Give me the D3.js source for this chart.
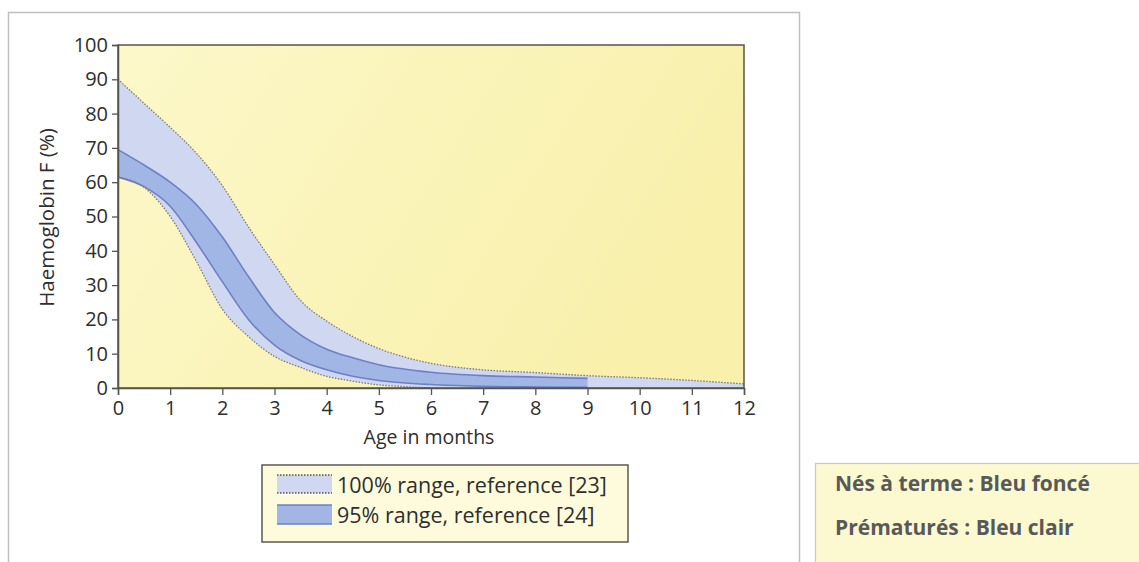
<!DOCTYPE html>
<html>
<head>
<meta charset="utf-8">
<script src="https://cdn.jsdelivr.net/npm/d3@7"></script>
<style>
  html, body { margin: 0; padding: 0; background: #fff; }
  svg { display: block; }
  text { font-family: "Open Sans", "Noto Sans", sans-serif; }
</style>
</head>
<body>
<svg id="chart" width="1139" height="562"></svg>
<script>
// ---- data ----
const months100 = [0, 0.5, 1, 1.5, 2, 2.5, 3, 3.5, 4, 4.5, 5, 5.5, 6, 7, 8, 9, 10, 11, 12];
const range100Upper = [90, 83, 76, 68.5, 59, 47, 36, 25.5, 19.5, 15, 11.5, 9, 7.2, 5.3, 4.5, 3.6, 3, 2.2, 1.2];
const range100Lower = [61.5, 58.5, 50, 37, 23, 15, 9.2, 6, 3.4, 2, 0.9, 0.4, 0, 0, 0, 0, 0, 0, 0];

const months95 = [0, 0.5, 1, 1.5, 2, 2.5, 3, 3.5, 4, 4.5, 5, 6, 7, 8, 9];
const range95Upper = [69.5, 65, 60, 53.5, 44, 32.5, 22, 15.5, 11.3, 8.8, 6.8, 4.6, 3.6, 3.2, 2.8];
const range95Lower = [61.5, 58.7, 53, 42.5, 31, 20, 12.5, 8, 5.3, 3.4, 2.2, 1, 0.5, 0.3, 0.2];

const xTicks = [0, 1, 2, 3, 4, 5, 6, 7, 8, 9, 10, 11, 12];
const yTicks = [0, 10, 20, 30, 40, 50, 60, 70, 80, 90, 100];

const xLabel = "Age in months";
const yLabel = "Haemoglobin F (%)";
const legendLabels = ["100% range, reference [23]", "95% range, reference [24]"];
const noteLines = ["Nés à terme : Bleu foncé", "Prématurés : Bleu clair"];

// ---- layout ----
const svg = d3.select("#chart");
const plot = { left: 118, top: 45, right: 744, bottom: 388 };

const x = d3.scaleLinear().domain([0, 12]).range([plot.left, plot.right]);
const y = d3.scaleLinear().domain([0, 100]).range([plot.bottom, plot.top]);

const defs = svg.append("defs");
const grad = defs.append("linearGradient").attr("id", "bg")
  .attr("x1", "0").attr("y1", "0").attr("x2", "1").attr("y2", "0.35");
grad.append("stop").attr("offset", "0%").attr("stop-color", "#fcf8c9");
grad.append("stop").attr("offset", "100%").attr("stop-color", "#f8f0ab");
defs.append("clipPath").attr("id", "clip").append("rect")
  .attr("x", plot.left).attr("y", plot.top)
  .attr("width", plot.right - plot.left).attr("height", plot.bottom - plot.top);

// outer frame
svg.append("rect").attr("x", 8.5).attr("y", 12.5).attr("width", 791).attr("height", 600)
  .attr("fill", "#fff").attr("stroke", "#c0c0c0").attr("stroke-width", 1.5);

// plot background
svg.append("rect").attr("x", plot.left).attr("y", plot.top)
  .attr("width", plot.right - plot.left).attr("height", plot.bottom - plot.top)
  .attr("fill", "url(#bg)");

const g = svg.append("g").attr("clip-path", "url(#clip)");

const d100 = months100.map((m, i) => ({ m, hi: range100Upper[i], lo: range100Lower[i] }));
const d95 = months95.map((m, i) => ({ m, hi: range95Upper[i], lo: range95Lower[i] }));

const curve = d3.curveMonotoneX;
const area = d3.area().x(d => x(d.m)).y0(d => y(d.lo)).y1(d => y(d.hi)).curve(curve);
const lineHi = d3.line().x(d => x(d.m)).y(d => y(d.hi)).curve(curve);
const lineLo = d3.line().x(d => x(d.m)).y(d => y(d.lo)).curve(curve);

g.append("path").datum(d100).attr("d", area).attr("fill", "#d0d7f1");
g.append("path").datum(d95).attr("d", area).attr("fill", "#a2b6e5");
g.append("path").datum(d95).attr("d", lineHi).attr("fill", "none").attr("stroke", "#6c80c6").attr("stroke-width", 1.6);
g.append("path").datum(d95).attr("d", lineLo).attr("fill", "none").attr("stroke", "#6c80c6").attr("stroke-width", 1.6);
g.append("path").datum(d100).attr("d", lineHi).attr("fill", "none").attr("stroke", "#7a7a7a")
  .attr("stroke-width", 1.3).attr("stroke-dasharray", "1.5,1.5");
g.append("path").datum(d100.filter(d => d.m <= 6.5)).attr("d", lineLo).attr("fill", "none").attr("stroke", "#7a7a7a")
  .attr("stroke-width", 1.3).attr("stroke-dasharray", "1.5,1.5");

// plot frame
svg.append("rect").attr("x", plot.left).attr("y", plot.top)
  .attr("width", plot.right - plot.left).attr("height", plot.bottom - plot.top)
  .attr("fill", "none").attr("stroke", "#55564a").attr("stroke-width", 1.5);

// axes
const xAxis = svg.append("g").attr("transform", `translate(0,${plot.bottom})`)
  .call(d3.axisBottom(x).tickValues(xTicks).tickSize(7).tickPadding(6).tickFormat(d3.format("d")));
const yAxis = svg.append("g").attr("transform", `translate(${plot.left},0)`)
  .call(d3.axisLeft(y).tickValues(yTicks).tickSize(6).tickPadding(4).tickFormat(d3.format("d")));
[xAxis, yAxis].forEach(a => {
  a.select(".domain").attr("stroke", "#55564a").attr("stroke-width", 1.5);
  a.selectAll(".tick line").attr("stroke", "#555").attr("stroke-width", 1.3);
  a.selectAll(".tick text").attr("fill", "#2e2e2e").style("font-size", "20px")
    .style("font-family", "'Open Sans', sans-serif");
});

// axis titles
svg.append("text").attr("x", x(6) - 2).attr("y", 444).attr("text-anchor", "middle")
  .attr("fill", "#2e2e2e").style("font-size", "19.5px").text(xLabel);
svg.append("text").attr("transform", `translate(54,${y(50) + 1}) rotate(-90)`).attr("text-anchor", "middle")
  .attr("fill", "#2e2e2e").style("font-size", "20.5px").text(yLabel);

// legend
const lg = svg.append("g");
lg.append("rect").attr("x", 262).attr("y", 465).attr("width", 366).attr("height", 77)
  .attr("fill", "#fdfbdb").attr("stroke", "#5a5a50").attr("stroke-width", 1.5);
const sw = [
  { y: 475, h: 18, fill: "#d0d7f1", stroke: "#555", dash: "1.5,1.5" },
  { y: 505, h: 19, fill: "#a2b6e5", stroke: "#6c80c6", dash: null }
];
sw.forEach((s, i) => {
  lg.append("rect").attr("x", 277).attr("y", s.y).attr("width", 55).attr("height", s.h).attr("fill", s.fill);
  [s.y, s.y + s.h].forEach(yy => {
    lg.append("line").attr("x1", 277).attr("x2", 332).attr("y1", yy).attr("y2", yy)
      .attr("stroke", s.stroke).attr("stroke-width", 1.4).attr("stroke-dasharray", s.dash);
  });
  lg.append("text").attr("x", 337).attr("y", s.y + s.h / 2 + 1).attr("dy", "0.35em")
    .attr("fill", "#2e2e2e").style("font-size", "21.5px").text(legendLabels[i]);
});

// note box
const nb = svg.append("g");
nb.append("rect").attr("x", 815.5).attr("y", 463.5).attr("width", 400).attr("height", 200)
  .attr("fill", "#fcf9d0").attr("stroke", "#c8c8c0").attr("stroke-width", 1.2);
noteLines.forEach((t, i) => {
  nb.append("text").attr("x", 835).attr("y", 484 + i * 44).attr("dy", "0.35em")
    .attr("fill", "#595959").style("font-size", "21px").style("font-weight", "700").text(t);
});
</script>
</body>
</html>
